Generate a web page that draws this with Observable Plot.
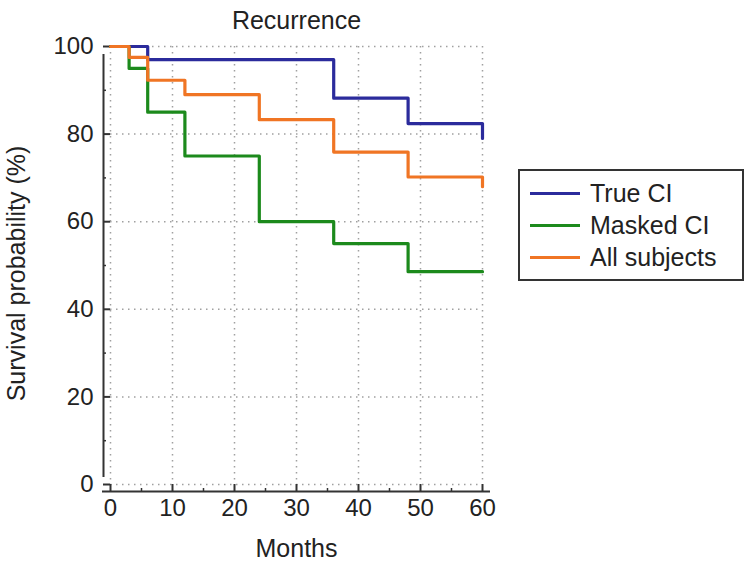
<!DOCTYPE html>
<html>
<head>
<meta charset="utf-8">
<script src="https://cdn.jsdelivr.net/npm/d3@7"></script>
<script src="https://cdn.jsdelivr.net/npm/@observablehq/plot@0.6"></script>
<style>
  body { margin: 0; background: #fff; }
  #wrap { position: relative; width: 750px; height: 567px; font-family: "Liberation Sans", Arial, sans-serif; }
  #legend { position: absolute; left: 518px; top: 169px; width: 226px; height: 112px; border: 2px solid #333; box-sizing: border-box; background: #fff; }
  .row { position: absolute; left: 10px; height: 30px; display: flex; align-items: center; font-size: 25px; color: #222; white-space: nowrap; }
  .sw { width: 50px; height: 3px; margin-right: 10px; }
</style>
</head>
<body>
<div id="wrap"></div>
<script>
const seriesNames = ["True CI", "Masked CI", "All subjects"];
const seriesColors = ["#2b2b9c", "#1c8a1c", "#f07524"];
const trueCiMonths = [0, 6, 36, 48, 60];
const trueCiSurv = [100, 97, 88.2, 82.4, 79];
const maskedCiMonths = [0, 3, 6, 12, 24, 36, 48, 60];
const maskedCiSurv = [100, 95, 85, 75, 60, 55, 48.6, 48.6];
const allMonths = [0, 3, 6, 12, 24, 36, 48, 60];
const allSurv = [100, 97.5, 92.3, 89, 83.3, 75.9, 70.2, 68];
const xTicks = [0, 10, 20, 30, 40, 50, 60];
const yTicks = [0, 20, 40, 60, 80, 100];
const xMinor = [5, 15, 25, 35, 45, 55];
const yMinor = [10, 30, 50, 70, 90];

const rows = [];
[[trueCiMonths, trueCiSurv], [maskedCiMonths, maskedCiSurv], [allMonths, allSurv]].forEach(([m, s], i) => {
  m.forEach((t, j) => rows.push({series: seriesNames[i], month: t, surv: s[j]}));
});

const font = "Liberation Sans, Arial, sans-serif";
const chart = Plot.plot({
  width: 750,
  height: 567,
  marginLeft: 110,
  marginRight: 268,
  marginTop: 46,
  marginBottom: 83,
  style: {fontFamily: font, fontSize: "24px", color: "#222", background: "#fff"},
  x: {domain: [0, 60]},
  y: {domain: [0, 100]},
  color: {domain: seriesNames, range: seriesColors},
  marks: [
    Plot.gridX(xTicks, {stroke: "#a0a0a0", strokeOpacity: 1, strokeWidth: 1.5, strokeDasharray: "1.5,4.5"}),
    Plot.gridY(yTicks, {stroke: "#a0a0a0", strokeOpacity: 1, strokeWidth: 1.5, strokeDasharray: "1.5,4.5"}),
    Plot.axisX(xTicks, {tickSize: 0, tickPadding: 14, fontSize: 24, label: null}),
    Plot.axisY(yTicks, {tickSize: 0, tickPadding: 17, fontSize: 24, label: null}),
    Plot.ruleY(yTicks, {x1: 0, x2: 0, insetLeft: -7, stroke: "#333", strokeWidth: 2}),
    Plot.ruleY(yMinor, {x1: 0, x2: 0, insetLeft: -7, insetRight: 4, stroke: "#333", strokeWidth: 1.5}),
    Plot.ruleX(xTicks, {y1: 0, y2: 0, insetBottom: -7, stroke: "#333", strokeWidth: 2}),
    Plot.ruleX(xMinor, {y1: 0, y2: 0, insetBottom: -7, insetTop: 4, stroke: "#333", strokeWidth: 1.5}),
    Plot.ruleX([0], {y1: 0, y2: 100, dx: -7, insetTop: -7, insetBottom: -8, stroke: "#333", strokeWidth: 2}),
    Plot.ruleY([0], {x1: 0, x2: 60, dy: 7, insetLeft: -8, insetRight: -8, stroke: "#333", strokeWidth: 2}),
    Plot.line(rows, {x: "month", y: "surv", z: "series", stroke: "series", curve: "step-after", strokeWidth: 3.2}),
    Plot.text(["Recurrence"], {frameAnchor: "top", dy: -35, fontSize: 25, fill: "#222"}),
    Plot.text(["Months"], {frameAnchor: "bottom", dy: 72, fontSize: 25, fill: "#222"}),
    Plot.text(["Survival probability (%)"], {frameAnchor: "left", textAnchor: "middle", dx: -94, dy: 8, rotate: -90, fontSize: 25, fill: "#222"})
  ]
});
const wrap = document.getElementById("wrap");
wrap.appendChild(chart);
const legend = document.createElement("div");
legend.id = "legend";
const centers = [193, 225, 257];
seriesNames.forEach((n, i) => {
  const r = document.createElement("div");
  r.className = "row";
  r.style.top = (centers[i] - 169 - 2 - 15) + "px";
  r.innerHTML = `<span class="sw" style="background:${seriesColors[i]}"></span><span>${n}</span>`;
  legend.appendChild(r);
});
wrap.appendChild(legend);
</script>
</body>
</html>
